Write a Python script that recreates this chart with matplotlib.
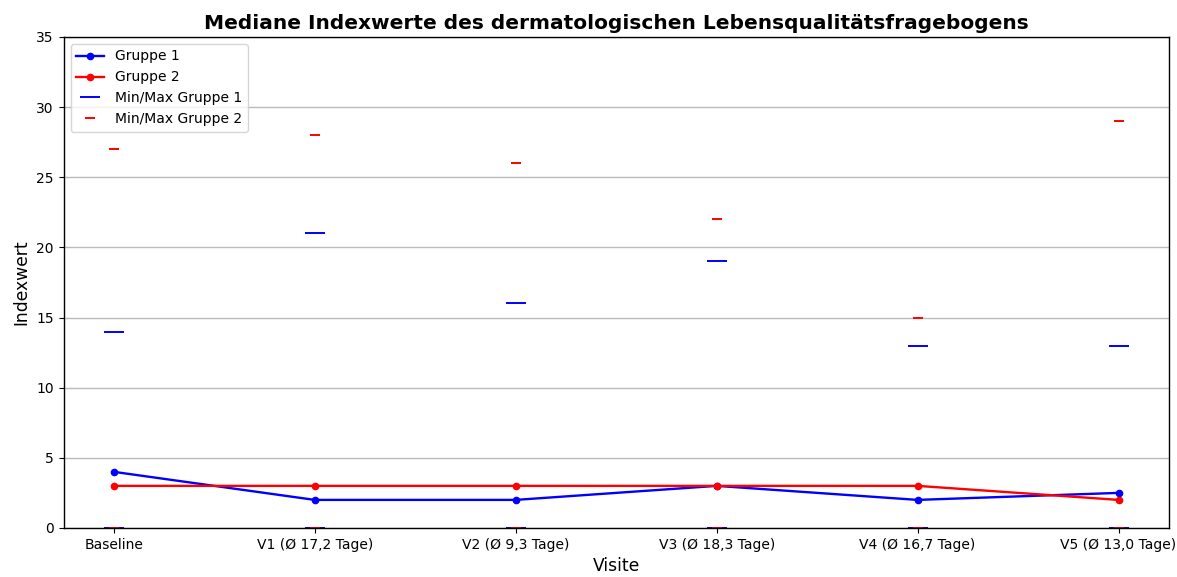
import matplotlib
matplotlib.use("Agg")
import matplotlib.pyplot as plt
import numpy as np

visits = ["Baseline", "V1 (Ø 17,2 Tage)", "V2 (Ø 9,3 Tage)", "V3 (Ø 18,3 Tage)",
          "V4 (Ø 16,7 Tage)", "V5 (Ø 13,0 Tage)"]
median_g1 = [4, 2, 2, 3, 2, 2.5]
median_g2 = [3, 3, 3, 3, 3, 2]
min_g1 = [0, 0, 0, 0, 0, 0]
max_g1 = [14, 21, 16, 19, 13, 13]
min_g2 = [0, 0, 0, 0, 0, 0]
max_g2 = [27, 28, 26, 22, 15, 29]

x = np.arange(len(visits))

fig, ax = plt.subplots(figsize=(11.77, 5.77), dpi=100)
ax.plot(x, median_g1, color="blue", marker="o", markersize=4.5, linewidth=1.7, label="Gruppe 1")
ax.plot(x, median_g2, color="red", marker="o", markersize=4.5, linewidth=1.7, label="Gruppe 2")
ax.plot(x, min_g1, linestyle="none", marker="_", markersize=15, markeredgewidth=1.4,
        color="blue", label="Min/Max Gruppe 1")
ax.plot(x, max_g1, linestyle="none", marker="_", markersize=15, markeredgewidth=1.4, color="blue")
ax.plot(x, min_g2, linestyle="none", marker="_", markersize=7.5, markeredgewidth=1.4,
        color="red", label="Min/Max Gruppe 2")
ax.plot(x, max_g2, linestyle="none", marker="_", markersize=7.5, markeredgewidth=1.4, color="red")

ax.set_xticks(x)
ax.set_xticklabels(visits, fontsize=10)
ax.tick_params(axis="y", labelsize=10)
ax.set_xlim(-0.25, 5.25)
ax.set_ylim(0, 35)
ax.yaxis.grid(True, color="#bbbbbb", linewidth=1)
ax.set_axisbelow(True)
for sp in ax.spines.values():
    sp.set_linewidth(1.0)
ax.set_xlabel("Visite", fontsize=12.3)
ax.set_ylabel("Indexwert", fontsize=12.3)
ax.set_title("Mediane Indexwerte des dermatologischen Lebensqualitätsfragebogens",
             fontsize=14.5, fontweight="bold")
ax.legend(loc="upper left", fontsize=10)

fig.subplots_adjust(left=0.054, right=0.993, top=0.936, bottom=0.085)
fig.savefig("out.png", dpi=100)
